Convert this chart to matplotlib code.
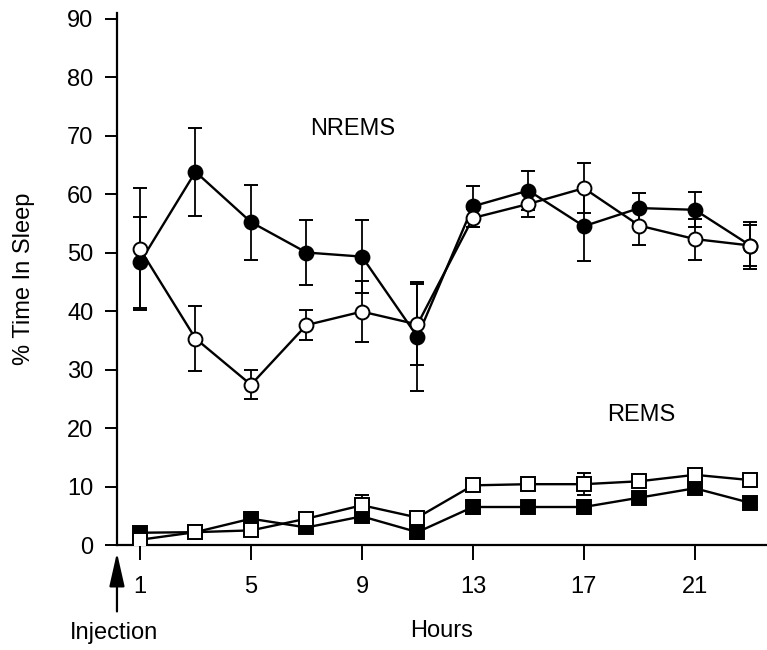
import matplotlib.pyplot as plt

plt.rcParams['font.family'] = ['Liberation Sans', 'DejaVu Sans']

# Hours after injection
hours = [1, 3, 5, 7, 9, 11, 13, 15, 17, 19, 21, 23]

# NREMS, filled circles
nrem_filled = [48.3, 63.8, 55.2, 50.0, 49.3, 35.6, 57.9, 60.6, 54.5, 57.6, 57.3, 51.2]
nrem_filled_err = [7.8, 7.5, 6.4, 5.6, 6.3, 9.3, 3.5, 3.4, 6.0, 2.6, 3.0, 3.5]
# NREMS, open circles
nrem_open = [50.6, 35.3, 27.4, 37.6, 39.9, 37.7, 55.9, 58.3, 61.0, 54.6, 52.3, 51.2]
nrem_open_err = [10.4, 5.6, 2.5, 2.6, 5.2, 7.0, 1.6, 2.3, 4.3, 3.3, 3.5, 4.0]

# REMS, filled squares
rem_filled = [2.1, 2.2, 4.5, 3.0, 4.9, 2.2, 6.5, 6.5, 6.5, 8.1, 9.7, 7.2]
rem_filled_err = [0.8, 0.8, 1.2, 0.8, 1.0, 1.2, 1.2, 1.1, 1.2, 1.0, 0.8, 0.7]
# REMS, open squares
rem_open = [0.9, 2.2, 2.5, 4.5, 6.8, 4.7, 10.2, 10.4, 10.4, 10.9, 12.0, 11.1]
rem_open_err = [0.6, 0.6, 0.8, 0.8, 1.7, 1.0, 1.0, 1.1, 1.9, 1.0, 0.8, 0.6]

fig = plt.figure(figsize=(7.67, 6.5), dpi=100)
ax = fig.add_axes([0.1525, 0.1615, 0.8475, 0.819])

style = dict(color='black', lw=1.7, ms=10, capsize=5, elinewidth=1.3, capthick=1.3, mec='black', mew=1.4)
ax.errorbar(hours, nrem_filled, yerr=nrem_filled_err, fmt='-o', mfc='black', zorder=3, **style)
ax.errorbar(hours, nrem_open, yerr=nrem_open_err, fmt='-o', mfc='white', zorder=4, **style)
ax.errorbar(hours, rem_filled, yerr=rem_filled_err, fmt='-s', mfc='black', zorder=3, **style)
ax.errorbar(hours, rem_open, yerr=rem_open_err, fmt='-s', mfc='white', zorder=4, **style)

ax.set_xlim(0.17, 23.6)
ax.set_ylim(0, 91)
ax.set_xticks([1, 5, 9, 13, 17, 21])
ax.set_yticks(range(0, 91, 10))
ax.tick_params(axis='x', direction='out', length=11, width=1.4, labelsize=17, pad=11)
ax.tick_params(axis='y', direction='out', length=9, width=1.4, labelsize=17, pad=8)
for s in ['top', 'right']:
    ax.spines[s].set_visible(False)
for s in ['left', 'bottom']:
    ax.spines[s].set_linewidth(1.6)

ax.set_xlabel('Hours', fontsize=17, labelpad=16)
ax.set_ylabel('% Time In Sleep', fontsize=17)
ax.yaxis.set_label_coords(-0.126, 0.5)

ax.text(8.65, 71.1, 'NREMS', fontsize=17, ha='center', va='center')
ax.text(19.05, 22.3, 'REMS', fontsize=17, ha='center', va='center')

# injection arrow
ax.annotate('', xy=(0, -0.009), xytext=(0, -0.13), xycoords='axes fraction',
            arrowprops=dict(arrowstyle='-|>,head_length=1.15,head_width=0.26', color='black',
                            lw=1.6, mutation_scale=18),
            annotation_clip=False)
ax.text(-0.004, -0.166, 'Injection', transform=ax.transAxes, fontsize=17, ha='center', va='center')

fig.savefig('out.png', dpi=100)
